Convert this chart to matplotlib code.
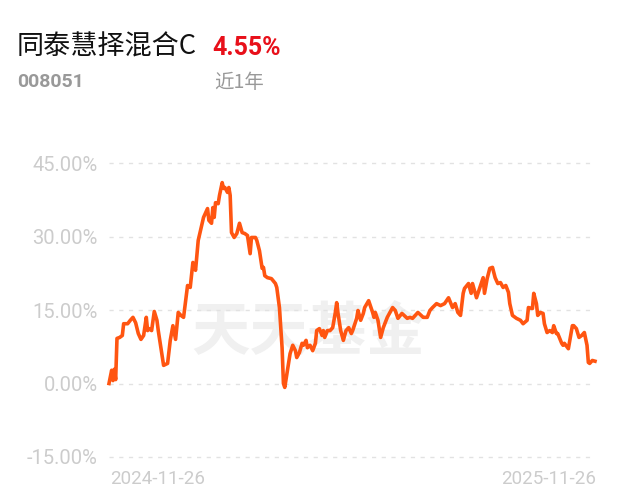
import matplotlib
matplotlib.use("Agg")
import matplotlib.pyplot as plt

# ---- fund return curve, near 1 year ----
fund_name = "同泰慧择混合C"
fund_code = "008051"
period_label = "近1年"
final_return = "4.55%"
start_date = "2024-11-26"
end_date = "2025-11-26"

# days since start date, and cumulative return [%]
days = [
    0, 2, 3, 4, 5, 6, 8, 10, 11, 14, 16, 18, 20, 22, 24, 26, 28, 29, 30, 32,
    34, 36, 37, 39, 41, 44, 46, 48, 50, 52, 54, 56, 59, 61, 63, 65, 67, 70, 71, 74,
    75, 77, 78, 79, 80, 82, 83, 85, 86, 87, 89, 90, 91, 92, 94, 96, 98, 100, 102, 104,
    106, 107, 110, 111, 113, 115, 116, 117, 119, 122, 125, 126, 128, 130, 131, 132, 134, 136, 138, 140,
    141, 143, 145, 146, 148, 149, 151, 153, 155, 156, 158, 160, 161, 162, 164, 166, 168, 170, 171, 172,
    174, 176, 178, 180, 182, 183, 186, 187, 189, 191, 192, 195, 198, 199, 200, 202, 204, 206, 209, 213,
    215, 217, 220, 224, 226, 228, 232, 236, 239, 241, 243, 246, 249, 252, 255, 258, 260, 262, 264, 266,
    267, 270, 272, 273, 276, 279, 281, 282, 284, 286, 288, 290, 292, 294, 296, 298, 300, 301, 303, 306,
    309, 311, 314, 315, 318, 319, 321, 322, 324, 326, 327, 329, 331, 333, 334, 336, 337, 340, 341, 342,
    345, 348, 349, 351, 353, 355, 357, 359, 360, 361, 363, 365,
]
returns = [
    0.0, 2.7, 0.6, 2.9, 0.8, 9.2, 9.4, 9.8, 12.2, 12.2, 12.9, 13.5, 12.4, 10.2, 9.0, 9.8, 13.5, 10.8, 11.2, 10.8,
    14.7, 12.9, 10.8, 7.3, 3.7, 4.1, 8.8, 11.8, 9.0, 14.5, 13.9, 13.5, 20.0, 19.6, 24.7, 23.1, 29.2, 32.7, 33.9, 35.7,
    33.3, 32.7, 35.9, 33.9, 36.9, 36.7, 38.4, 41.0, 39.8, 40.0, 39.0, 40.0, 38.4, 30.8, 29.8, 30.6, 32.7, 30.8, 30.6, 30.2,
    26.5, 29.8, 29.8, 29.2, 27.1, 23.5, 23.7, 22.0, 21.6, 21.4, 20.4, 19.6, 15.5, 7.3, 0.0, -0.8, 2.7, 6.1, 7.8, 6.7,
    5.3, 6.3, 8.2, 7.8, 8.8, 7.3, 7.8, 6.7, 8.2, 10.8, 11.2, 9.8, 10.8, 9.4, 10.8, 10.8, 11.4, 14.5, 16.5, 14.3,
    10.8, 8.8, 10.8, 11.4, 10.2, 10.8, 13.3, 14.9, 12.9, 14.3, 15.5, 16.9, 14.5, 13.5, 14.5, 12.9, 9.4, 11.4, 13.5, 15.5,
    14.9, 13.3, 14.3, 13.3, 13.5, 13.3, 14.5, 13.5, 13.5, 14.9, 15.5, 16.3, 15.9, 16.3, 17.5, 15.5, 16.3, 14.5, 13.9, 18.4,
    19.4, 20.4, 18.4, 20.4, 17.5, 20.0, 21.6, 18.4, 21.4, 23.5, 23.7, 21.6, 20.4, 20.6, 19.6, 20.0, 18.6, 16.3, 13.9, 13.3,
    12.9, 12.2, 12.9, 15.5, 15.3, 18.4, 16.3, 13.9, 14.5, 14.3, 12.2, 10.4, 10.8, 10.4, 11.8, 10.2, 10.2, 8.2, 7.8, 8.2,
    7.1, 11.8, 11.8, 11.2, 9.4, 9.8, 10.4, 7.8, 4.3, 4.1, 4.7, 4.55,
]
y_ticks = [-15, 0, 15, 30, 45]

plt.rcParams["font.family"] = ["Roboto", "Noto Sans CJK SC", "DejaVu Sans"]

fig = plt.figure(figsize=(6.22, 5.0), dpi=100)
fig.patch.set_facecolor("white")
ax = fig.add_axes([109 / 622, 43 / 500, 486 / 622, 294 / 500])

ax.plot(days, returns, color="#ff5511", linewidth=2.6, solid_joinstyle="round",
        clip_on=False, zorder=3)

ax.set_xlim(days[0], days[-1])
ax.set_ylim(y_ticks[0], y_ticks[-1])
ax.set_yticks(y_ticks)
ax.set_yticklabels([f"{v:.2f}%" for v in y_ticks], color="#cccccc", fontsize=14.5)
ax.tick_params(axis="y", length=0, pad=8)
ax.set_xticks([])
for v in y_ticks:
    ax.axhline(v, color="#e2e2e2", linewidth=1.0, linestyle=(0, (3, 4)),
               xmax=0.996, zorder=1, clip_on=False)
for s in ax.spines.values():
    s.set_visible(False)

# watermark
ax.text(0.41, 0.42, "天天基金", transform=ax.transAxes, ha="center", va="center",
        fontsize=42, fontweight="bold", color="#f0f0f0", family=["Noto Sans CJK SC"],
        zorder=0)

# date labels
fig.text(110 / 622, 1 - 479 / 500, start_date, ha="left", va="center",
         fontsize=13.5, color="#cccccc")
fig.text(596 / 622, 1 - 479 / 500, end_date, ha="right", va="center",
         fontsize=13.5, color="#cccccc")

# header
fig.text(17 / 622, 1 - 47 / 500, fund_name, ha="left", va="center",
         fontsize=19.5, color="#111111", family=["Noto Sans CJK SC", "DejaVu Sans"])
fig.text(212 / 622, 1 - 48 / 500, final_return, ha="left", va="center",
         fontsize=18, fontweight="bold", color="#e8101a")
fig.text(17 / 622, 1 - 82 / 500, fund_code, ha="left", va="center",
         fontsize=14, fontweight="bold", color="#999999")
fig.text(214 / 622, 1 - 83 / 500, period_label, ha="left", va="center",
         fontsize=14, color="#999999", family=["Noto Sans CJK SC", "DejaVu Sans"])

fig.savefig("out.png", dpi=100, facecolor="white")
